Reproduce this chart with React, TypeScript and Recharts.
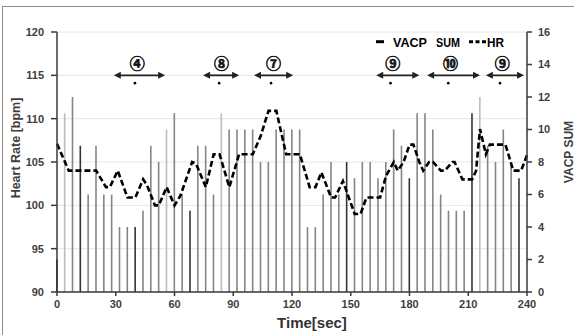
import {
  ComposedChart,
  Bar,
  Line,
  XAxis,
  YAxis,
  CartesianGrid,
  Cell,
  ReferenceLine,
  ReferenceDot,
} from "recharts";

// VACP SUM, one bar every 4 s
const BAR_TIME = [
  0, 4, 8, 12, 16, 20, 24, 28, 32, 36, 40, 44, 48, 52, 56, 60, 64, 68, 72, 76,
  80, 84, 88, 92, 96, 100, 104, 108, 112, 116, 120, 124, 128, 132, 136, 140,
  144, 148, 152, 156, 160, 164, 168, 172, 176, 180, 184, 188, 192, 196, 200,
  204, 208, 212, 216, 220, 224, 228, 232, 236,
];
const VACP_SUM = [
  2, 11, 12, 9, 6, 9, 6, 6, 4, 4, 4, 5, 9, 8, 10, 11, 6, 5, 9, 9,
  6, 11, 10, 10, 10, 10, 8, 8, 10, 10, 10, 10, 4, 4, 6, 8,
  6, 8, 7, 8, 8, 7, 8, 10, 9, 7, 11, 11, 10, 6, 5,
  5, 5, 11, 12, 9, 8, 10, 8, 7,
];

// heart rate trace
const HR_TIME = [
  0, 6, 20, 25, 27, 31, 36, 40, 44, 46, 50, 52, 56, 60, 63, 69, 71, 76, 80, 83,
  88, 93, 100, 104, 108, 112, 117, 124, 129, 132, 135, 140, 142, 146, 152, 155,
  158, 165, 168, 172, 174, 177, 180, 182, 185, 187, 190, 192, 196, 198, 202,
  203, 207, 212, 214, 216, 219, 221, 229, 233, 237, 240,
];
const HR_VALUE = [
  107.1, 104, 104, 102.1, 102.1, 104, 100.9, 100.9, 103, 102.3, 100, 100, 102.1,
  100, 101.1, 105, 104.8, 102.1, 105.9, 105.9, 102.1, 105.9, 105.9, 108, 110.9,
  110.9, 105.9, 105.9, 102.1, 102.1, 103.8, 100.9, 100.9, 102.8, 99, 99, 100.9,
  100.9, 103.4, 105, 104, 105, 107, 107, 105, 104, 105, 105, 104, 104, 105, 105,
  103, 103, 104, 108.8, 105.9, 107, 107, 104, 104, 105.8,
];

// phase annotations (time range + label)
const PHASE_LABEL = ["④", "⑧", "⑦", "⑨", "⑩", "⑨"];
const PHASE_START = [29, 74.6, 100.6, 163, 189, 219];
const PHASE_END = [55.2, 93, 120.6, 185, 216, 238.5];
const PHASE_MID = [41, 84, 110.5, 171.5, 201, 227.4];

const X_TICKS = [0, 30, 60, 90, 120, 150, 180, 210, 240];
const HR_TICKS = [90, 95, 100, 105, 110, 115, 120];
const VACP_TICKS = [0, 2, 4, 6, 8, 10, 12, 14, 16];

const times = Array.from(new Set([...BAR_TIME, ...HR_TIME])).sort((a, b) => a - b);
const TABLE = times.map((t) => {
  const bi = BAR_TIME.indexOf(t);
  const hi = HR_TIME.indexOf(t);
  return {
    t,
    vacp: bi >= 0 ? VACP_SUM[bi] : null,
    hr: hi >= 0 ? HR_VALUE[hi] : null,
  };
});

const DARK_BARS = [0, 12, 40, 68, 148, 180, 212, 236];
const LIGHT_BARS = [4, 56, 84, 216];
const barColor = (t: number) =>
  DARK_BARS.includes(t) ? "#333333" : LIGHT_BARS.includes(t) ? "#bdbdbd" : "#858585";

const AXIS = "#3a3a3a";
const tickStyle = { fontSize: 11, fontWeight: 700, fill: "#404040" };
const FONT = "'Liberation Sans', Arial, sans-serif";

function Arrow(props: any) {
  const { x1, y1, x2 } = props;
  const h = 7;
  const w = 3.5;
  return (
    <g>
      <line x1={x1 + 3} y1={y1} x2={x2 - 3} y2={y1} stroke="#222" strokeWidth={1.8} />
      <polygon points={`${x1},${y1} ${x1 + h},${y1 - w} ${x1 + h},${y1 + w}`} fill="#222" />
      <polygon points={`${x2},${y1} ${x2 - h},${y1 - w} ${x2 - h},${y1 + w}`} fill="#222" />
    </g>
  );
}

export default function App() {
  return (
    <div style={{ position: "absolute", left: 0, top: 0, width: 578, height: 335, background: "#fff", fontFamily: FONT }}>
      {/* frame */}
      <div style={{ position: "absolute", left: 2, top: 6, width: 571, height: 330, borderTop: "1px solid #8c8c8c", borderLeft: "1px solid #8c8c8c" }} />

      <ComposedChart width={578} height={335} data={TABLE} margin={{ top: 32, right: 0, bottom: 0, left: 0 }}>
        <CartesianGrid vertical={false} stroke="#e6e6e6" yAxisId="hr" />
        <XAxis
          dataKey="t"
          type="number"
          domain={[0, 240]}
          ticks={X_TICKS}
          height={43}
          tick={tickStyle}
          stroke={AXIS}
          strokeWidth={1.5}
          tickSize={4}
          tickMargin={4}
          label={{
            content: () => (
              <text x={312} y={328} textAnchor="middle" fontSize={15} fontWeight={700} fill="#333">
                Time[sec]
              </text>
            ),
          }}
        />
        <YAxis
          yAxisId="hr"
          domain={[90, 120]}
          ticks={HR_TICKS}
          width={57}
          tick={tickStyle}
          stroke={AXIS}
          strokeWidth={1.5}
          tickSize={6}
          tickMargin={7}
          label={{
            content: () => (
              <text x={16} y={148} transform="rotate(-90 16 148)" textAnchor="middle" dominantBaseline="central" fontSize={12.5} fontWeight={700} fill="#404040">
                Heart Rate [bpm]
              </text>
            ),
          }}
        />
        <YAxis
          yAxisId="vacp"
          orientation="right"
          domain={[0, 16]}
          ticks={VACP_TICKS}
          width={51}
          tick={tickStyle}
          stroke={AXIS}
          strokeWidth={1.5}
          tickSize={5}
          tickMargin={6}
          label={{
            content: () => (
              <text x={569} y={152} transform="rotate(-90 569 152)" textAnchor="middle" dominantBaseline="central" fontSize={12} fontWeight={700} fill="#404040">
                VACP SUM
              </text>
            ),
          }}
        />

        <Bar dataKey="vacp" yAxisId="vacp" barSize={1.6} isAnimationActive={false}>
          {TABLE.map((row) => (
            <Cell key={row.t} fill={barColor(row.t)} />
          ))}
        </Bar>
        <Line
          dataKey="hr"
          yAxisId="hr"
          type="linear"
          stroke="#000"
          strokeWidth={2.6}
          strokeDasharray="6 3"
          dot={false}
          connectNulls
          isAnimationActive={false}
        />

        {PHASE_LABEL.map((lab, i) => (
          <ReferenceLine
            key={`arr${i}`}
            yAxisId="hr"
            segment={[{ x: PHASE_START[i], y: 115 }, { x: PHASE_END[i], y: 115 }]}
            shape={Arrow}
          />
        ))}
        {PHASE_LABEL.map((lab, i) => (
          <ReferenceDot
            key={`lab${i}`}
            yAxisId="hr"
            x={PHASE_MID[i]}
            y={116.5}
            shape={(p: any) => (
              <text x={p.cx} y={p.cy} textAnchor="middle" dominantBaseline="central" fontSize={15} fontWeight={700} fill="#111" stroke="#111" strokeWidth={0.6} fontFamily="'Noto Sans CJK JP', sans-serif">
                {lab}
              </text>
            )}
          />
        ))}
        {PHASE_LABEL.map((lab, i) => (
          <ReferenceDot key={`dot${i}`} yAxisId="hr" x={PHASE_MID[i] - 1.2} y={114.1} r={1.3} fill="#000" stroke="none" />
        ))}
      </ComposedChart>

      {/* legend */}
      <svg style={{ position: "absolute", left: 370, top: 30 }} width={150} height={24}>
        <line x1={6} y1={11.7} x2={14} y2={11.7} stroke="#000" strokeWidth={3} />
        <text x={23} y={16.5} fontSize={13} fontWeight={700} fill="#000" textLength={34} lengthAdjust="spacingAndGlyphs">VACP</text>
        <text x={66} y={16.5} fontSize={13} fontWeight={700} fill="#000" textLength={24} lengthAdjust="spacingAndGlyphs">SUM</text>
        <line x1={99} y1={11.7} x2={116} y2={11.7} stroke="#000" strokeWidth={3} strokeDasharray="4 2.5" />
        <text x={117} y={16.5} fontSize={13} fontWeight={700} fill="#000" textLength={17} lengthAdjust="spacingAndGlyphs">HR</text>
      </svg>
    </div>
  );
}
